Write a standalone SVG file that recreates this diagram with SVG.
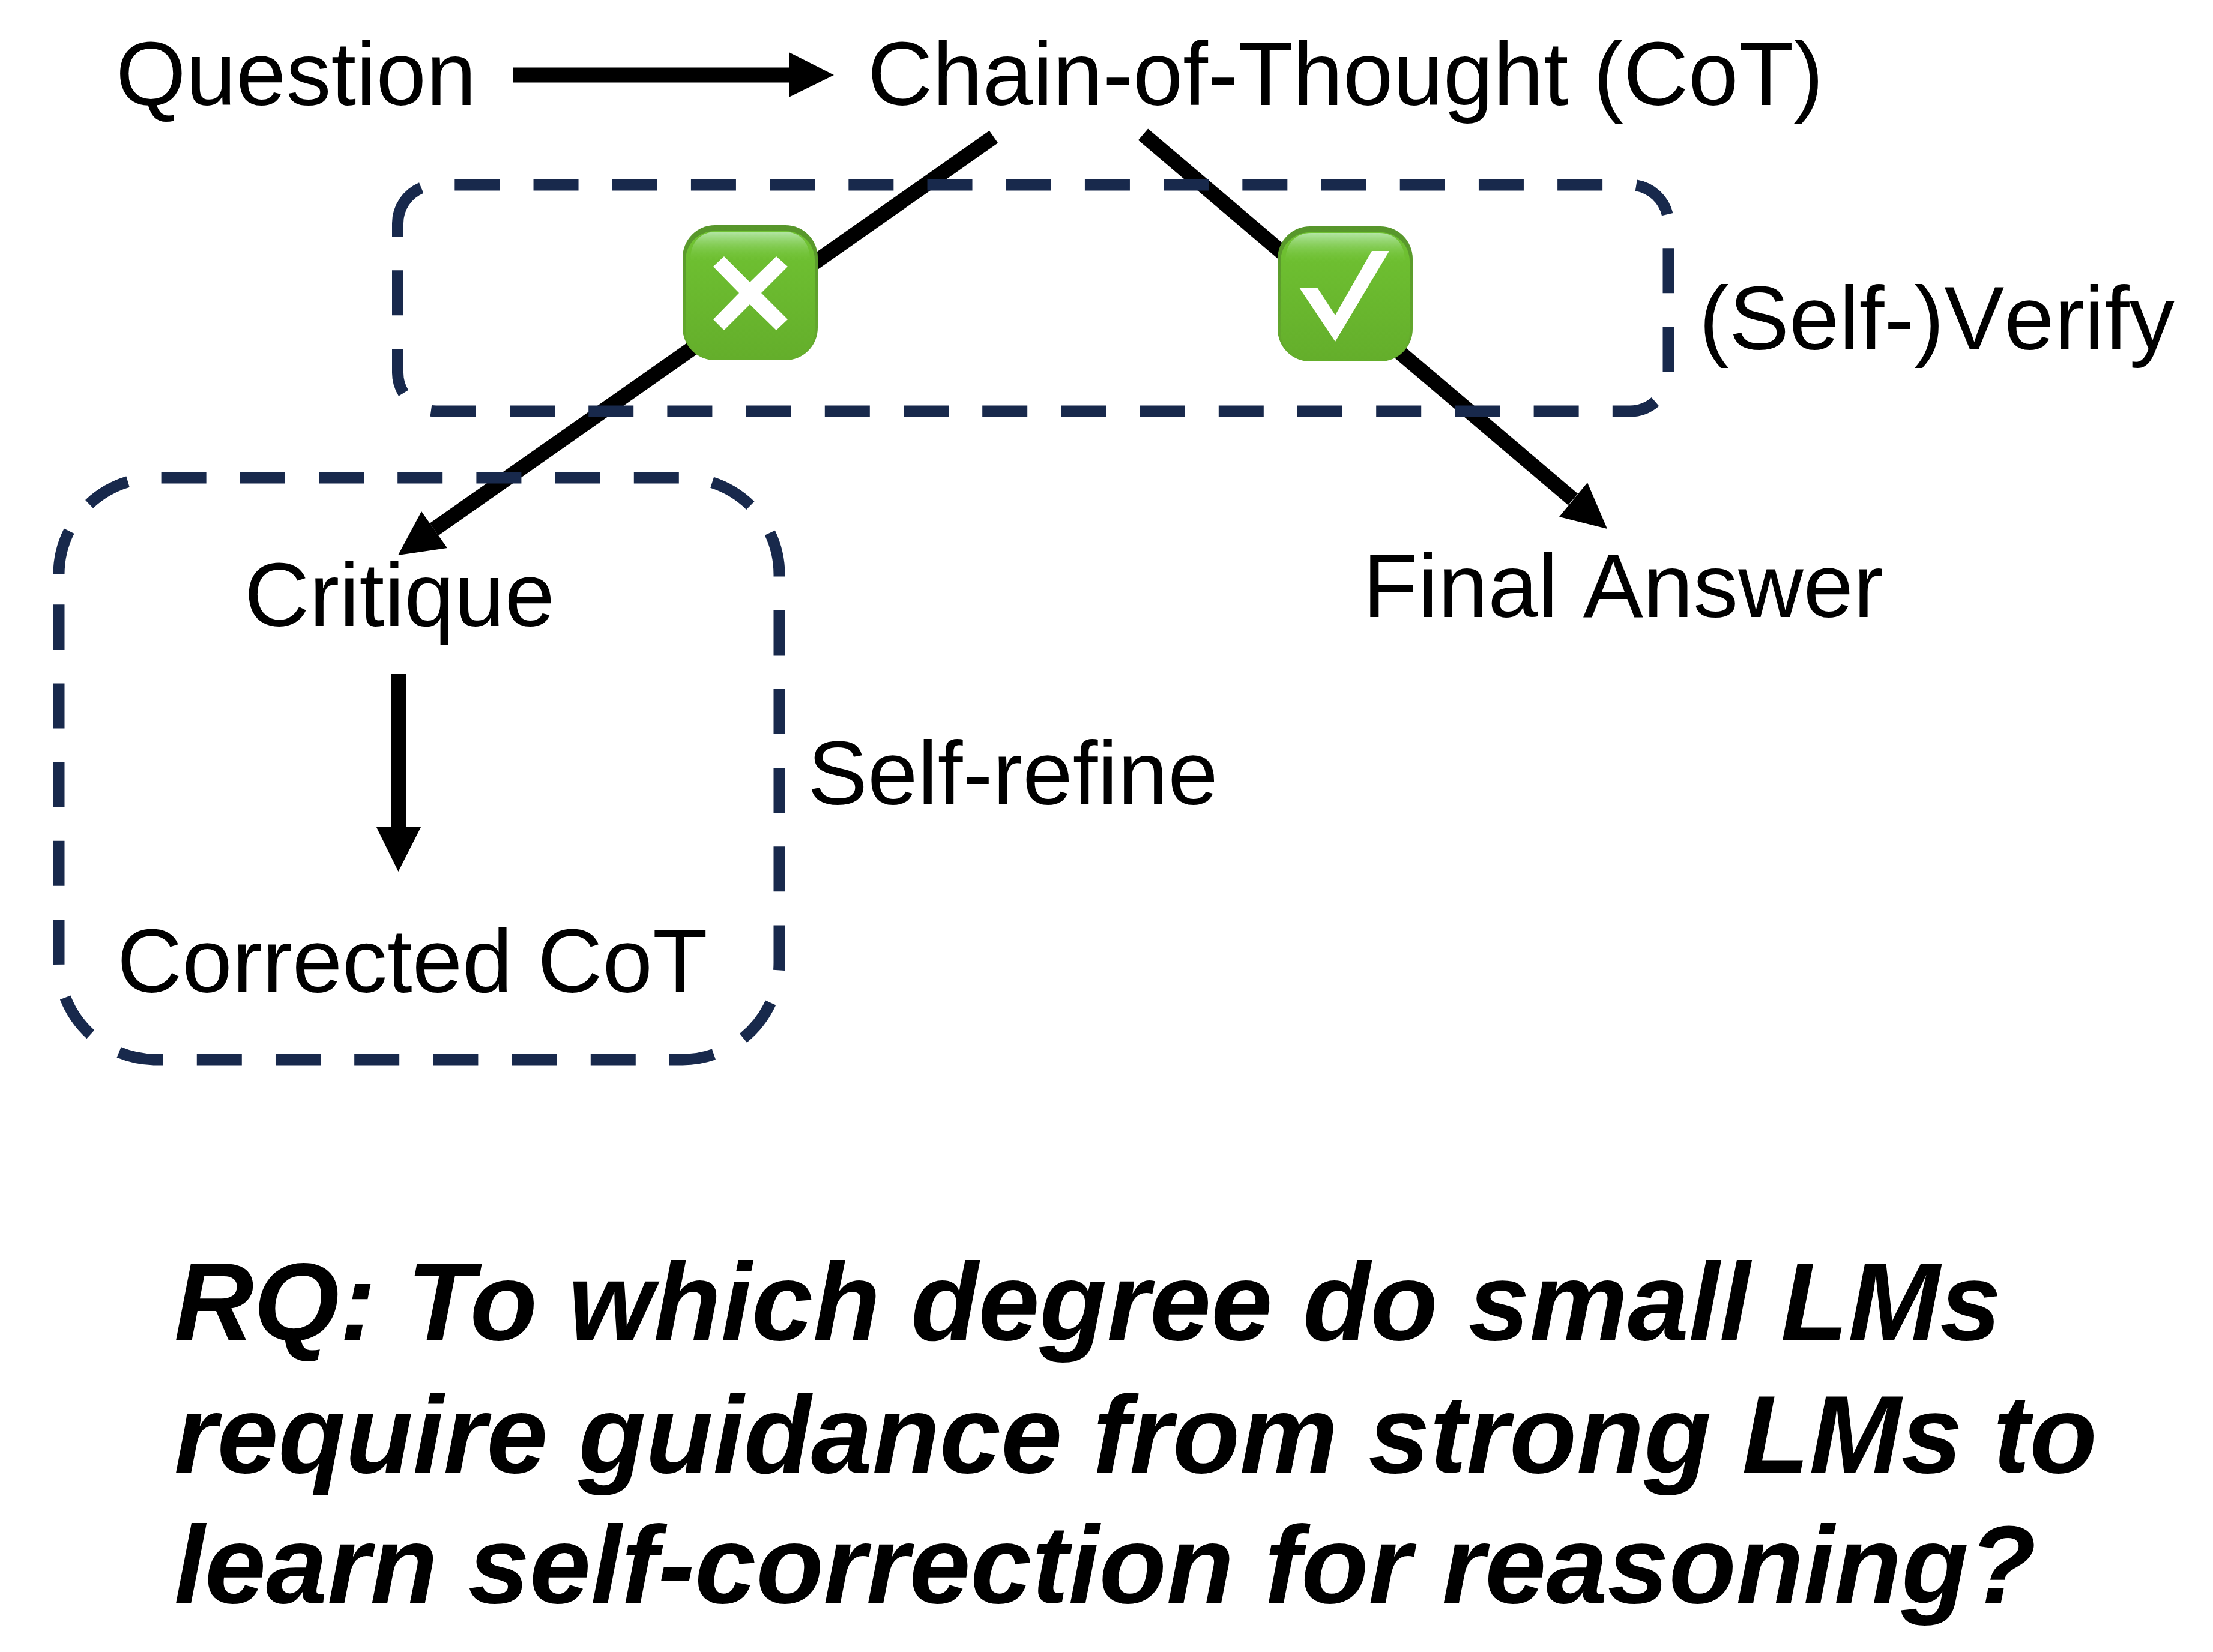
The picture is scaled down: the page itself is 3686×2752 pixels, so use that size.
<svg xmlns="http://www.w3.org/2000/svg" width="3686" height="2752" viewBox="0 0 3686 2752">
<defs>
<style>
text{font-family:"Liberation Sans",Arial,sans-serif;fill:#000}
.t{font-size:150px;font-kerning:none}
.rq{font-size:183.600px;font-weight:700;font-style:italic}
.dash{fill:none;stroke:#18294c;stroke-width:19;stroke-dasharray:75 56.2}
.line{fill:none;stroke:#000;stroke-width:25}
.mark{fill:#fff}
.edge{fill:url(#tileEdge)}
.body{fill:url(#tileBody)}
.shine{fill:url(#tileShine)}
</style>
<linearGradient id="tileEdge" x1="0" y1="0" x2="0" y2="1"><stop offset="0" stop-color="#57962b"/><stop offset="1" stop-color="#66ac2d"/></linearGradient>
<linearGradient id="tileBody" x1="0" y1="0" x2="0" y2="1"><stop offset="0" stop-color="#70c332"/><stop offset="1" stop-color="#64ae2b"/></linearGradient>
<linearGradient id="tileShine" x1="0" y1="0" x2="0" y2="1"><stop offset="0" stop-color="#b4e6a6"/><stop offset="1" stop-color="#70c332" stop-opacity="0"/></linearGradient>
<g id="tile">
<rect class="edge" width="225" height="225" rx="54"/>
<rect class="body" x="5" y="10" width="215" height="214" rx="48"/>
<path class="shine" d="M13 58C13 28 30 11 56 11H169C195 11 212 28 212 58V62H13Z"/>
</g>
</defs>
<rect width="3686" height="2752" fill="#fff"/>
<g id="connectors">
<path class="line" d="M854 125H1316"/>
<polygon points="1389,125 1314,87 1314,162"/>
<path class="line" d="M1655 228L723 882"/>
<polygon points="663,925 702,852 745,913"/>
<path class="line" d="M1904 224L2620 832"/>
<polygon points="2677,881 2644,804 2597,861"/>
<path class="line" d="M663.500 1122V1380"/>
<polygon points="663.500,1452 627,1378 701,1378"/>
</g>
<g id="verify"><path class="dash" d="M662.500 372A64 64 0 0 1 726.500 308H2715A64 64 0 0 1 2779 372V621A64 64 0 0 1 2715 685H726.500A64 64 0 0 1 662.500 621Z"/><text class="t" x="2830" y="582">(Self-)Verify</text></g>
<g id="refine"><path class="dash" d="M98 957A161 161 0 0 1 259 796H1137A161 161 0 0 1 1298 957V1604A161 161 0 0 1 1137 1765H259A161 161 0 0 1 98 1604Z"/><text class="t" x="1345" y="1340">Self-refine</text></g>
<g id="question"><text class="t" x="193" y="175">Question</text></g>
<g id="cot"><text class="t" x="1445" y="175">Chain-of-Thought (CoT)</text></g>
<g id="critique"><text class="t" x="407" y="1043">Critique</text></g>
<g id="corrected"><text class="t" x="195" y="1653">Corrected CoT</text></g>
<g id="answer"><text class="t" x="2270" y="1028">Final Answer</text></g>
<g id="cross"><use href="#tile" x="1137" y="375"/><polygon class="mark" points="1206,427 1249,470 1293,427 1312,444 1268,488 1312,532 1293,550 1249,507 1206,550 1188,532 1231,488 1188,444"/></g>
<g id="check"><use href="#tile" x="2128" y="377"/><polygon class="mark" points="2285,418 2314,418 2224,569 2164,479 2194,479 2224,525"/></g>
<g id="rq">
<text class="rq" x="290" y="2232">RQ: To which degree do small LMs</text>
<text class="rq" x="290" y="2453">require guidance from strong LMs to</text>
<text class="rq" x="290" y="2670">learn self-correction for reasoning?</text>
</g>
</svg>
